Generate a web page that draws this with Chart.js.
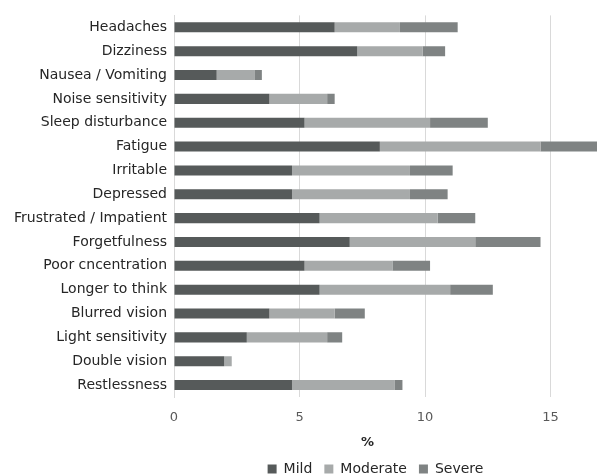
<!DOCTYPE html>
<html>
<head>
<meta charset="utf-8">
<script src="https://cdn.jsdelivr.net/npm/chart.js"></script>
<style>
  html, body { margin: 0; padding: 0; background: #fff; }
  #wrap { width: 597px; height: 476px; }
</style>
</head>
<body>
<div id="wrap"><canvas id="grafico"></canvas></div>
<script>
const categorias = ['Headaches', 'Dizziness', 'Nausea / Vomiting', 'Noise sensitivity', 'Sleep disturbance',
  'Fatigue', 'Irritable', 'Depressed', 'Frustrated / Impatient', 'Forgetfulness', 'Poor cncentration',
  'Longer to think', 'Blurred vision', 'Light sensitivity', 'Double vision', 'Restlessness'];
const mild =     [6.4, 7.3, 1.7, 3.8, 5.2, 8.2, 4.7, 4.7, 5.8, 7.0, 5.2, 5.8, 3.8, 2.9, 2.0, 4.7];
const moderate = [2.6, 2.6, 1.5, 2.3, 5.0, 6.4, 4.7, 4.7, 4.7, 5.0, 3.5, 5.2, 2.6, 3.2, 0.3, 4.1];
const severe =   [2.3, 0.9, 0.3, 0.3, 2.3, 2.6, 1.7, 1.5, 1.5, 2.6, 1.5, 1.7, 1.2, 0.6, 0.0, 0.3];
const ticksX = [0, 5, 10, 15];

const fuente = "'DejaVu Sans', sans-serif";
const ctx = document.getElementById('grafico').getContext('2d');

// la leyenda del original no esta centrada en el lienzo, la corro a la derecha
const moverLeyenda = {
  id: 'moverLeyenda',
  afterLayout(chart) {
    chart.legend.left += 154;
  }
};

new Chart(ctx, {
  type: 'bar',
  data: {
    labels: categorias,
    datasets: [
      { label: 'Mild', data: mild, backgroundColor: '#565a5a' },
      { label: 'Moderate', data: moderate, backgroundColor: '#a7aaaa' },
      { label: 'Severe', data: severe, backgroundColor: '#7f8383' }
    ]
  },
  options: {
    indexAxis: 'y',
    responsive: true,
    maintainAspectRatio: false,
    animation: false,
    layout: { padding: { top: 14, right: 0, bottom: 0, left: 0 } },
    datasets: { bar: { barPercentage: 0.42, categoryPercentage: 1 } },
    scales: {
      x: {
        stacked: true,
        min: 0,
        max: 16.85,
        border: { display: false },
        grid: { color: '#d9d9d9', lineWidth: 1, drawTicks: false },
        afterBuildTicks: axis => { axis.ticks = ticksX.map(v => ({ value: v })); },
        afterFit: axis => { axis.height = 53; },
        ticks: { color: '#595959', font: { family: fuente, size: 13 }, padding: 13 },
        title: { display: true, text: '%        ', color: '#262626', font: { family: fuente, size: 13, weight: 'bold' }, padding: { top: 0, bottom: 0 } }
      },
      y: {
        stacked: true,
        border: { display: true, color: '#d9d9d9' },
        grid: { display: false, drawTicks: false },
        afterFit: axis => { axis.width = 174; },
        ticks: { color: '#262626', font: { family: fuente, size: 14 }, padding: 7 }
      }
    },
    plugins: {
      legend: {
        position: 'bottom',
        maxHeight: 26,
        labels: { boxWidth: 9, boxHeight: 9, padding: 12, color: '#262626', font: { family: fuente, size: 14 } }
      },
      tooltip: { enabled: false }
    }
  },
  plugins: [moverLeyenda]
});
</script>
</body>
</html>
